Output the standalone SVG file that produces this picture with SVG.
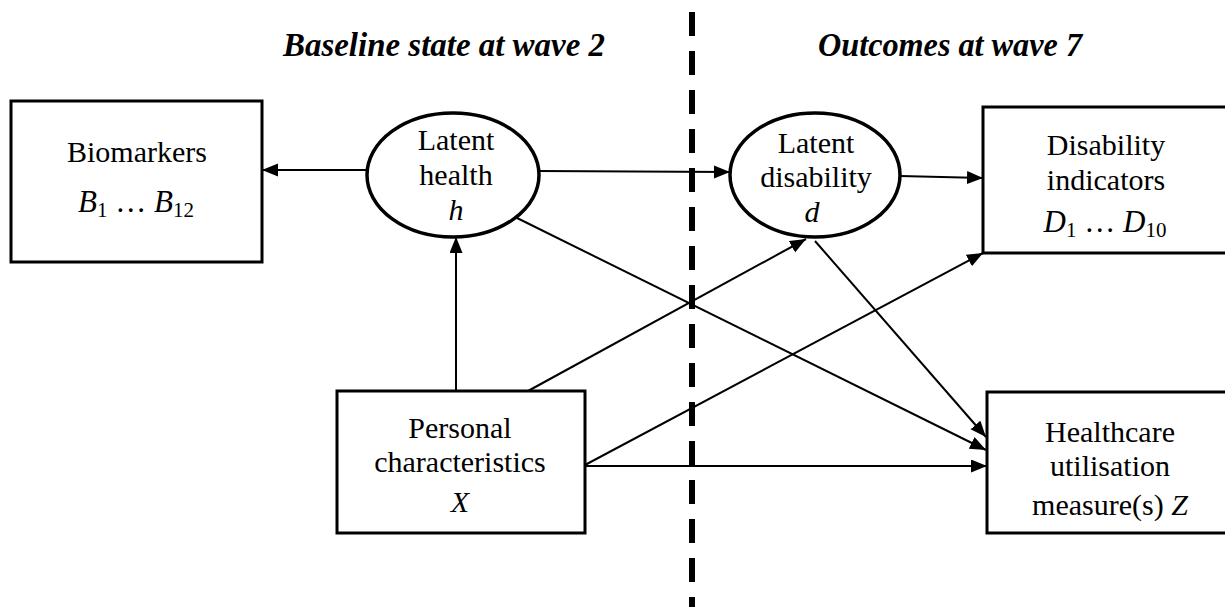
<svg xmlns="http://www.w3.org/2000/svg" width="1225" height="607" viewBox="0 0 1225 607">
<defs>
<style>
.box{fill:#fff;stroke:#000;stroke-width:3}
.ell{fill:#fff;stroke:#000;stroke-width:3.5}
.lbl{font-family:"Liberation Serif","Times New Roman",serif;font-size:30px;fill:#000;text-anchor:middle}
.math{font-family:"Liberation Serif","Times New Roman",serif;font-size:31px;fill:#000;text-anchor:middle}
.it{font-style:italic}
.sub{font-size:21px}
.title{font-family:"Liberation Serif","Times New Roman",serif;font-size:33px;font-weight:bold;font-style:italic;fill:#000;text-anchor:middle}
.edge{fill:none;stroke:#000;stroke-width:2}
</style>
<marker id="arr" markerUnits="userSpaceOnUse" markerWidth="18" markerHeight="14" refX="16" refY="6.5" orient="auto">
<path d="M0,0 L16,6.5 L0,13 z" fill="#000"/>
</marker>
</defs>
<rect width="1225" height="607" fill="#fff"/>
<g id="titles">
<text class="title" x="444" y="56" textLength="322" lengthAdjust="spacingAndGlyphs">Baseline state at wave 2</text>
<text class="title" x="950" y="56" textLength="264" lengthAdjust="spacingAndGlyphs">Outcomes at wave 7</text>
</g>
<line id="divider" x1="692" y1="12" x2="692" y2="607" stroke="#000" stroke-width="6" stroke-dasharray="24 15"/>
<g id="connectors">
<path class="edge" d="M367,170 L262,170" marker-end="url(#arr)"/>
<path class="edge" d="M538,171 L730,172" marker-end="url(#arr)"/>
<path class="edge" d="M456,391 L456,237" marker-end="url(#arr)"/>
<path class="edge" d="M528,391 L806,239" marker-end="url(#arr)"/>
<path class="edge" d="M513,216 L986,450" marker-end="url(#arr)"/>
<path class="edge" d="M815,241 L986,437" marker-end="url(#arr)"/>
<path class="edge" d="M900,176 L983,178" marker-end="url(#arr)"/>
<path class="edge" d="M585,465 L983,253" marker-end="url(#arr)"/>
<path class="edge" d="M585,466 L987,466" marker-end="url(#arr)"/>
</g>
<g id="biomarkers">
<rect class="box" x="11" y="101" width="251" height="161"/>
<text class="lbl" x="137" y="162">Biomarkers</text>
<text class="math" x="136" y="212"><tspan class="it">B</tspan><tspan class="sub" dy="5">1</tspan><tspan dy="-5"> … </tspan><tspan class="it">B</tspan><tspan class="sub" dy="5">12</tspan></text>
</g>
<g id="latent-health">
<ellipse class="ell" cx="453" cy="175" rx="86" ry="62"/>
<text class="lbl" x="456" y="150">Latent</text>
<text class="lbl" x="456" y="185">health</text>
<text class="lbl it" x="456" y="220">h</text>
</g>
<g id="latent-disability">
<ellipse class="ell" cx="815" cy="175" rx="85" ry="62"/>
<text class="lbl" x="816" y="153">Latent</text>
<text class="lbl" x="816" y="187">disability</text>
<text class="lbl it" x="812" y="222">d</text>
</g>
<g id="disability-indicators">
<rect class="box" x="983" y="107" width="260" height="146"/>
<text class="lbl" x="1106" y="155">Disability</text>
<text class="lbl" x="1106" y="190">indicators</text>
<text class="math" x="1105" y="232"><tspan class="it">D</tspan><tspan class="sub" dy="5">1</tspan><tspan dy="-5"> … </tspan><tspan class="it">D</tspan><tspan class="sub" dy="5">10</tspan></text>
</g>
<g id="personal-characteristics">
<rect class="box" x="337" y="391" width="248" height="142"/>
<text class="lbl" x="460" y="438">Personal</text>
<text class="lbl" x="460" y="472">characteristics</text>
<text class="lbl it" x="460" y="512">X</text>
</g>
<g id="healthcare">
<rect class="box" x="987" y="392" width="256" height="141"/>
<text class="lbl" x="1110" y="442">Healthcare</text>
<text class="lbl" x="1110" y="476">utilisation</text>
<text class="lbl" x="1110" y="515">measure(s)  <tspan class="it">Z</tspan></text>
</g>
</svg>
